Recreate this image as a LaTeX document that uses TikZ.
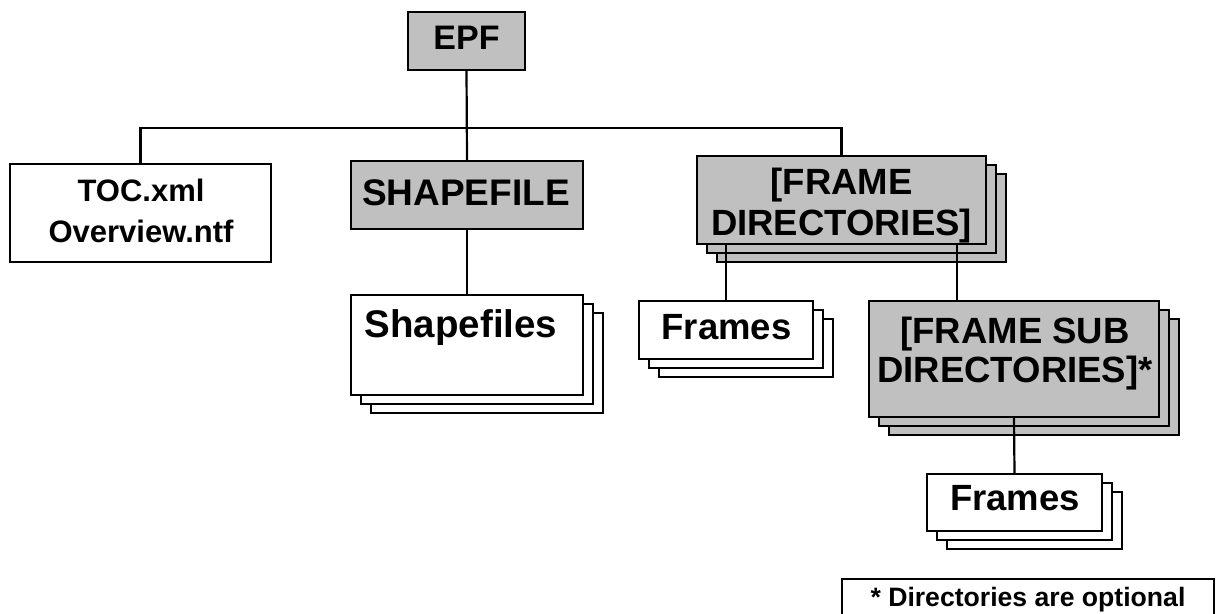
\documentclass[tikz,border=0pt]{standalone}
\usepackage{fontspec}
\setmainfont{Liberation Sans}
\usetikzlibrary{shadows}
\definecolor{boxgray}{HTML}{C0C0C0}
\begin{document}
\begin{tikzpicture}[x=1pt,y=-1pt,
  box/.style={draw=black, line width=2.2pt, inner sep=0pt, outer sep=0pt, rectangle},
  graybox/.style={box, fill=boxgray},
  whitebox/.style={box, fill=white},
  gstack/.style={double copy shadow={shadow xshift=10pt, shadow yshift=-9pt, fill=boxgray, draw=black, line width=2.2pt}},
  wstack/.style={double copy shadow={shadow xshift=10pt, shadow yshift=-9pt, fill=white, draw=black, line width=2.2pt}},
  lbl/.style={anchor=base, align=center, inner sep=0pt, font=\bfseries\fontsize{36.5}{41}\selectfont},
  conn/.style={line width=2.2pt}
]
\useasboundingbox (0,0) rectangle (1223,613);
\fill[white] (0,0) rectangle (1223,613);

% boxes
\node[graybox, minimum width=117pt, minimum height=58pt] (epf) at (466.5,41) {};
\node[lbl, font=\bfseries\fontsize{34}{40}\selectfont] (epft) at (466.5,49) {EPF};

\node[whitebox, minimum width=261pt, minimum height=98pt] (toc) at (140.5,213) {};
\node[lbl, font=\bfseries\fontsize{31}{41}\selectfont] (toct) at (141,242) {TOC.xml\\Overview.ntf};

\node[graybox, minimum width=232pt, minimum height=68pt] (shp) at (467,195) {};
\node[lbl, font=\bfseries\fontsize{37}{41}\selectfont] (shpt) at (466,205) {SHAPEFILE};

\node[whitebox, wstack, minimum width=232pt, minimum height=100pt] (shps) at (467,345) {};
\node[lbl, font=\bfseries\fontsize{38.5}{41}\selectfont] (shpst) at (461,337) {Shapefiles};

\node[graybox, gstack, minimum width=289pt, minimum height=88pt] (fd) at (841.5,200) {};
\node[lbl] (fdt) at (841.5,235) {[FRAME\\DIRECTORIES]};

\node[whitebox, wstack, minimum width=174pt, minimum height=58pt] (fr1) at (726,330) {};
\node[lbl] (fr1t) at (726.5,339) {Frames};

\node[graybox, gstack, minimum width=290pt, minimum height=116pt] (fsd) at (1014,359) {};
\node[lbl, font=\bfseries\fontsize{36.5}{39}\selectfont] (fsdt) at (1015,382) {[FRAME SUB\\DIRECTORIES]*};

\node[whitebox, wstack, minimum width=175pt, minimum height=57pt] (fr2) at (1014.5,502.5) {};
\node[lbl] (fr2t) at (1015,510) {Frames};

\begin{scope}
  \clip (0,0) rectangle (1223,613);
  \node[whitebox, minimum width=372pt, minimum height=61pt] (note) at (1028,609.5) {};
  \node[lbl, font=\bfseries\fontsize{26.6}{30}\selectfont] (notet) at (1028,606) {* Directories are optional};
\end{scope}

% connectors
\coordinate (bus) at (0,128);
\coordinate (fsdlink) at (957,0);
\draw[conn] (toc.north) -- (toc.north |- bus) -- (fd.north |- bus) -- (fd.north);
\draw[conn] (epf.south) -- (shp.north);
\draw[conn] (shp.south) -- (shps.north);
\draw[conn] (fr1.north |- fd.south) -- (fr1.north);
\draw[conn] (fsdlink |- fd.south) -- (fsdlink |- fsd.north);
\draw[conn] (fsd.south) -- (fr2.north);
\end{tikzpicture}
\end{document}
